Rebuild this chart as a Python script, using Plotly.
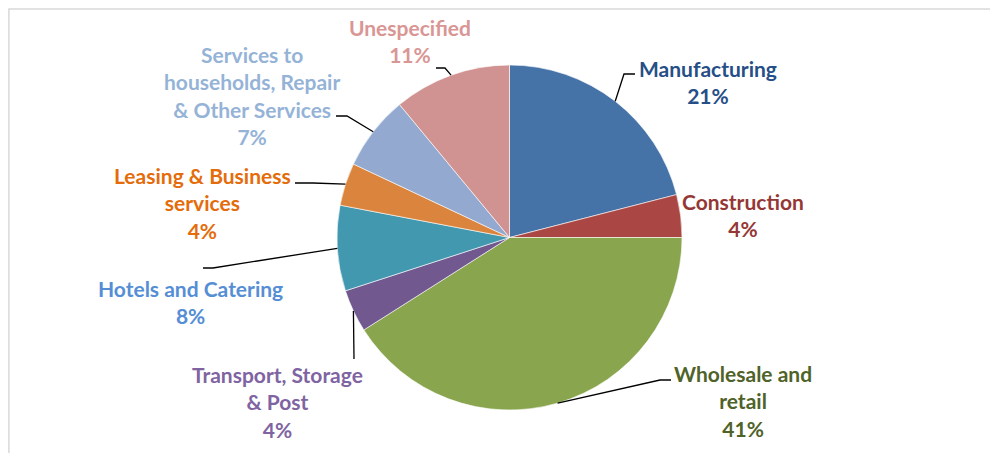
"""Pie chart: distribution by sector, Excel-style outside labels with leader lines."""

import math

import plotly.graph_objects as go

OFF = 8  # page body margin around the plot div
W, H = 998 - 2 * OFF, 461 - 2 * OFF  # keep the div inside the window (no scrollbars)

SECTORS = [
    "Manufacturing",
    "Construction",
    "Wholesale and retail",
    "Transport, Storage & Post",
    "Hotels and Catering",
    "Leasing & Business services",
    "Services to households, Repair & Other Services",
    "Unespecified",
]
SHARES = [21, 4, 41, 4, 8, 4, 7, 11]

LABELS = [
    "Manufacturing",
    "Construction",
    "Wholesale and<br>retail",
    "Transport, Storage<br>& Post",
    "Hotels and Catering",
    "Leasing & Business<br>services",
    "Services to<br>households, Repair<br>& Other Services",
    "Unespecified",
]

SLICE_COLORS = ["#4572A7", "#AA4643", "#89A54E", "#71588F",
                "#4198AF", "#DB843D", "#93A9CF", "#D19392"]
TEXT_COLORS = ["#254F86", "#953735", "#4F6228", "#8064A2",
               "#558ED5", "#E46C0A", "#95B3D7", "#D99694"]

# pie geometry in page pixels
CX, CY, R = 509.5, 237.5, 172.5

# label block centre (px) and leader path after the slice point (px)
LABEL_POS = [
    (708, 82), (743, 215), (743, 401), (277, 402),
    (190, 302), (202, 203), (252, 95), (410, 41),
]
LEADERS = [
    [(624, 74), (635, 74)],
    None,
    [(660, 380), (671, 380)],
    [(354, 359)],
    [(213, 268), (203, 268)],
    [(313, 183), (295, 183)],
    [(347, 116), (336, 116)],
    [(445, 68), (436, 68)],
]


def px(x, y):
    return (x - OFF) / W, 1 - (y - OFF) / H


fig = go.Figure(
    go.Pie(
        labels=SECTORS,
        values=SHARES,
        sort=False,
        direction="clockwise",
        rotation=0,
        marker=dict(colors=SLICE_COLORS, line=dict(color="white", width=0.6)),
        textinfo="none",
        showlegend=False,
        domain=dict(
            x=[px(CX - R, 0)[0], px(CX + R, 0)[0]],
            y=[px(0, CY + R)[1], px(0, CY - R)[1]],
        ),
    )
)

total = sum(SHARES)
cum = 0
for i, share in enumerate(SHARES):
    mid = (cum + share / 2) / total * 2 * math.pi
    cum += share
    pct = round(share / total * 100)
    lx, ly = px(*LABEL_POS[i])
    fig.add_annotation(
        x=lx, y=ly, xref="paper", yref="paper",
        text=f"{LABELS[i]}<br>{pct}%",
        showarrow=False, xanchor="center", yanchor="middle", align="center",
        font=dict(family="Lato", size=21, color=TEXT_COLORS[i], weight="bold"),
    )
    if LEADERS[i]:
        pts = [(CX + R * math.sin(mid), CY - R * math.cos(mid))] + LEADERS[i]
        path = "M " + " L ".join(f"{px(x, y)[0]:.5f},{px(x, y)[1]:.5f}" for x, y in pts)
        fig.add_shape(type="path", path=path, xref="paper", yref="paper",
                      line=dict(color="black", width=1.3))

# chart border: only left and top edges are visible in the crop
bx, by = 0.9 / W, 1 - 1 / H
fig.add_shape(type="path", xref="paper", yref="paper",
              path=f"M {bx},0 L {bx},{by} L 1,{by}",
              line=dict(color="#D9D9D9", width=1.5))

fig.update_layout(
    width=W, height=H,
    margin=dict(l=0, r=0, t=0, b=0),
    paper_bgcolor="white",
    plot_bgcolor="white",
)
fig.write_html("out.html")
